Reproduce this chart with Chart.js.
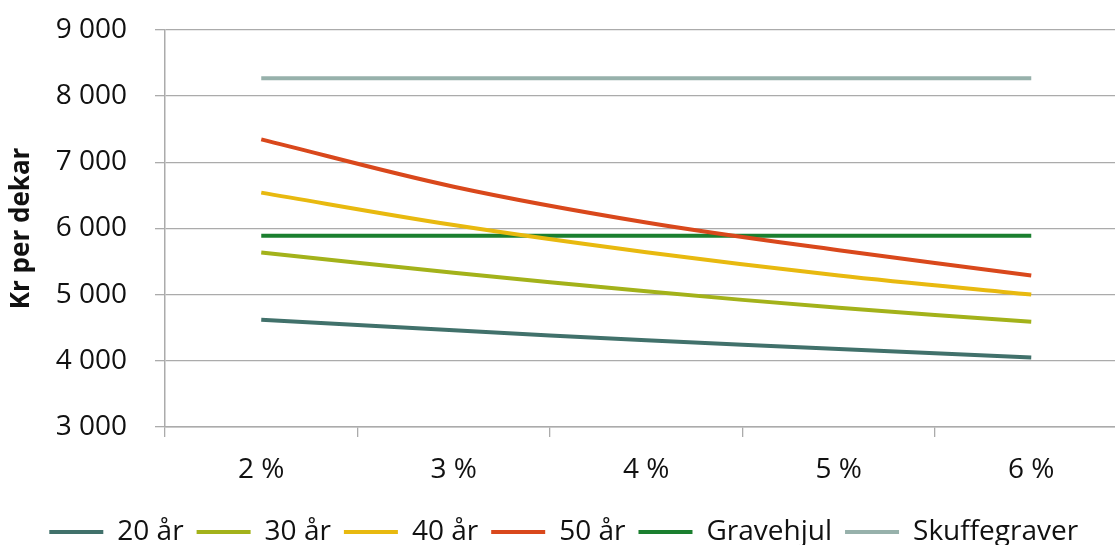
<!DOCTYPE html>
<html lang="no">
<head>
<meta charset="utf-8">
<title>Kr per dekar</title>
<script src="https://cdn.jsdelivr.net/npm/chart.js@4.4.1/dist/chart.umd.min.js"></script>
<style>
  html, body { margin: 0; padding: 0; background: #fff; overflow: hidden; }
  #wrap { position: relative; width: 1140px; height: 571px; margin-top: -15px; }
</style>
</head>
<body>
<div id="wrap"><canvas id="chart"></canvas></div>
<script>
// Rentesats (kalkulasjonsrente)
const categories = ['2 %', '3 %', '4 %', '5 %', '6 %'];

// Kostnad per dekar for ulike levetider og alternativ
const ar20 = [4620, 4460, 4310, 4180, 4050];
const ar30 = [5635, 5330, 5050, 4800, 4590];
const ar40 = [6540, 6050, 5640, 5290, 5000];
const ar50 = [7345, 6630, 6090, 5670, 5290];
const gravehjul = [5890, 5890, 5890, 5890, 5890];
const skuffegraver = [8270, 8270, 8270, 8270, 8270];

const seriesNames = ['20 år', '30 år', '40 år', '50 år', 'Gravehjul', 'Skuffegraver'];
const seriesColors = ['#41716b', '#a3b21a', '#e8b90f', '#d9481c', '#1b7f2f', '#97b1ab'];
const seriesData = [ar20, ar30, ar40, ar50, gravehjul, skuffegraver];

const FONT = "'Open Sans', 'DejaVu Sans', sans-serif";
const gridColor = '#ababab';

function thousands(v) {
  return String(v).replace(/\B(?=(\d{3})+(?!\d))/g, ' ');
}

const datasets = seriesNames.map((name, i) => ({
  label: name,
  data: seriesData[i],
  borderColor: seriesColors[i],
  backgroundColor: seriesColors[i],
  borderWidth: 4,
  pointRadius: 0,
  pointHoverRadius: 0,
  tension: 0.35,
  fill: false
}));

new Chart(document.getElementById('chart'), {
  type: 'line',
  data: { labels: categories, datasets },
  options: {
    responsive: true,
    maintainAspectRatio: false,
    animation: false,
    events: [],
    layout: { padding: { left: 0, right: 12.5, top: 14, bottom: 0 } },
    plugins: {
      tooltip: { enabled: false },
      legend: {
        position: 'bottom',
        align: 'center',
        labels: {
          boxWidth: 54,
          boxHeight: 4,
          padding: 13,
          color: '#111',
          font: { family: FONT, size: 28 },
          generateLabels(chart) {
            return Chart.defaults.plugins.legend.labels.generateLabels(chart)
              .map(l => Object.assign(l, { lineWidth: 0 }));
          }
        }
      }
    },
    scales: {
      x: {
        type: 'category',
        offset: true,
        afterFit(scale) { scale.height = 78; },
        grid: {
          offset: true,
          drawOnChartArea: false,
          drawTicks: true,
          tickLength: 10,
          color: gridColor,
          lineWidth: 1.3
        },
        border: { display: true, color: gridColor, width: 1.5 },
        ticks: {
          padding: 16,
          color: '#111',
          font: { family: FONT, size: 28 },
          maxRotation: 0
        }
      },
      y: {
        min: 3000,
        max: 9000,
        afterFit(scale) { scale.width = 165; },
        grid: {
          color: gridColor,
          lineWidth: 1.3,
          drawTicks: true,
          tickLength: 10
        },
        border: { display: true, color: gridColor, width: 1.5 },
        ticks: {
          stepSize: 1000,
          padding: 28,
          color: '#111',
          font: { family: FONT, size: 28 },
          callback: v => thousands(v)
        },
        title: {
          display: true,
          text: 'Kr per dekar',
          color: '#111',
          font: { family: FONT, size: 26, weight: 'bold' },
          padding: { top: 6, bottom: 0 }
        }
      }
    }
  }
});
</script>
</body>
</html>
